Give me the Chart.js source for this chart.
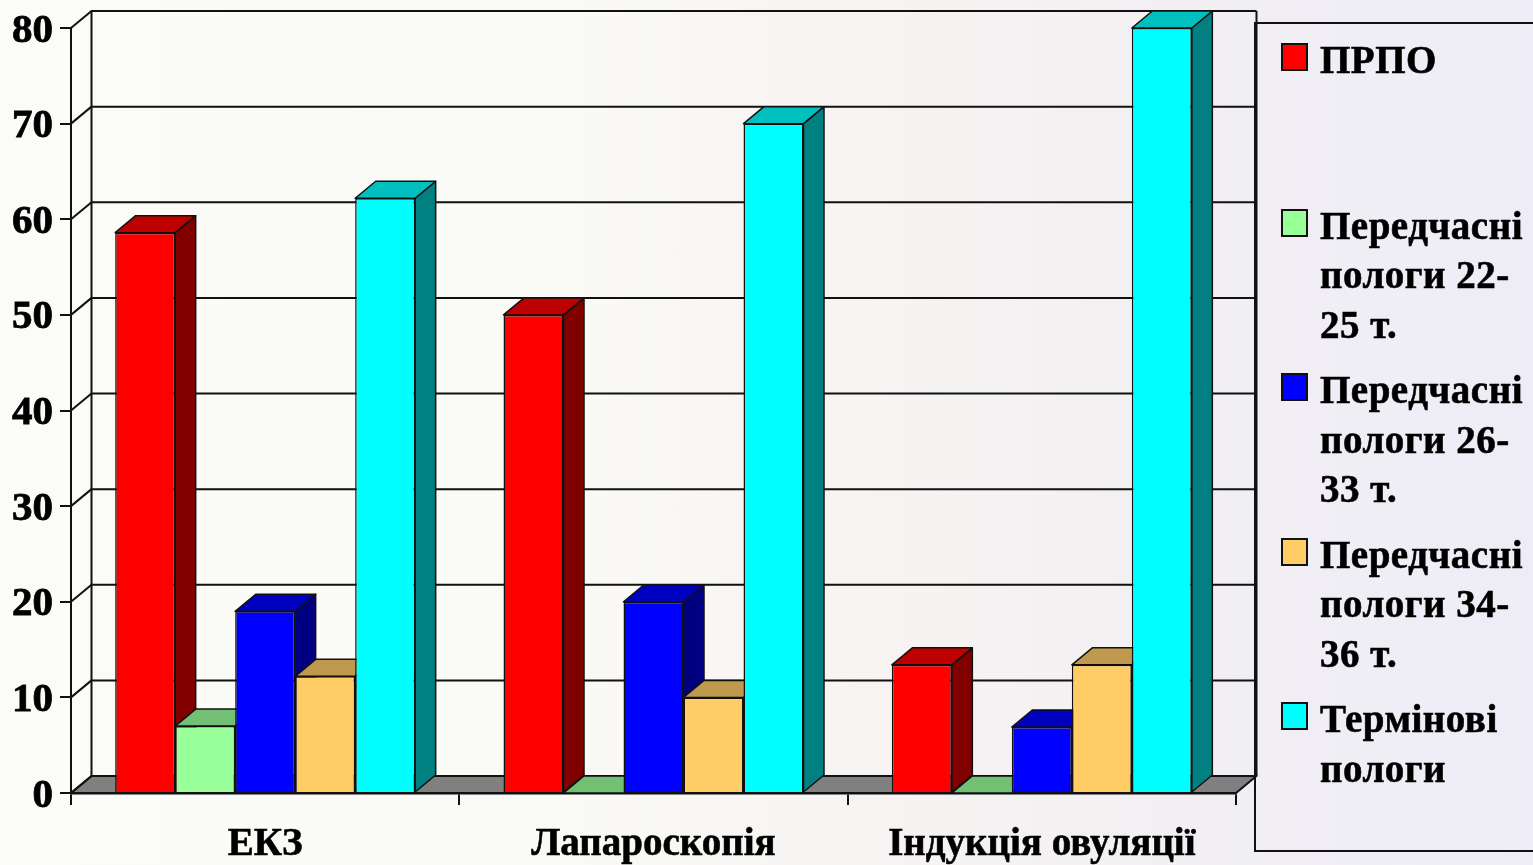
<!DOCTYPE html>
<html lang="uk">
<head>
    <meta charset="UTF-8">
    <title>Пологи</title>
    <script src="https://cdn.jsdelivr.net/npm/chart.js"></script>
    <style>
        html, body { margin: 0; padding: 0; overflow: hidden; }
        body {
            width: 1533px; height: 865px; position: relative;
            background: linear-gradient(90deg, #fbfbf8 0%, #fafaf6 35%, #f6f3f2 60%, #f1eff3 80%, #eeedf7 100%);
            font-family: "Liberation Serif", serif; font-weight: bold; color: #000;
        }
        canvas { position: absolute; left: 0; top: 0; }
        #legenda {
            position: absolute; left: 1254px; top: 22px; width: 290px; height: 830px;
            border: 2px solid #111; box-sizing: border-box;
            padding-top: 11px;
        }
        .item {
            position: relative; margin-bottom: 16px; padding-left: 64px; width: 210px;
            font-size: 39px; line-height: 49.5px; letter-spacing: 0.5px;
            -webkit-text-stroke: 0.6px #000;
        }
        .item:first-child { margin-bottom: 116px; }
        .item i {
            position: absolute; left: 25px; top: 8px; width: 27px; height: 28px;
            border: 2px solid #111; box-sizing: border-box;
        }
    </style>
</head>
<body>
    <canvas id="grafik" width="1533" height="865"></canvas>
    <div id="legenda"></div>

    <script>
        const kategorii = ["ЕКЗ", "Лапароскопія", "Індукція овуляції"];
        const nazvy = ["ПРПО", "Передчасні пологи 22-25 т.", "Передчасні пологи 26-33 т.", "Передчасні пологи 34-36 т.", "Термінові пологи"];

        const prpo = [58.6, 50, 13.4];
        const pp2225 = [7, 0, 0];
        const pp2633 = [19, 20, 6.9];
        const pp3436 = [12.2, 10, 13.4];
        const terminovi = [62.2, 70, 80];

        const kolory = ["#ff0000", "#99ff99", "#0000ff", "#ffcc66", "#00ffff"];
        const verkh = ["#bf0000", "#73bf73", "#0000bf", "#bf994d", "#00bfbf"];
        const bik = ["#800000", "#4d804d", "#000080", "#806633", "#008080"];

        const dx = 20.5, dy = -17;

        function poly(ctx, pts, fill) {
            ctx.beginPath();
            ctx.moveTo(pts[0][0], pts[0][1]);
            for (let i = 1; i < pts.length; i++) ctx.lineTo(pts[i][0], pts[i][1]);
            ctx.closePath();
            if (fill) { ctx.fillStyle = fill; ctx.fill(); }
            ctx.stroke();
        }

        // стінки, сітка і бічні грані стовпчиків
        const obyem = {
            id: "obyem",
            beforeDatasetsDraw(chart) {
                const ctx = chart.ctx, a = chart.chartArea, y = chart.scales.y;
                ctx.save();
                ctx.strokeStyle = "#111";
                ctx.lineWidth = 2;
                ctx.lineJoin = "round";

                // підлога
                poly(ctx, [[a.left, a.bottom], [a.right, a.bottom], [a.right + dx, a.bottom + dy], [a.left + dx, a.bottom + dy]], "#808080");

                // сітка на задній стінці
                y.ticks.forEach(t => {
                    const py = y.getPixelForValue(t.value);
                    ctx.beginPath();
                    ctx.moveTo(a.left, py);
                    ctx.lineTo(a.left + dx, py + dy);
                    if (t.value > 0) ctx.lineTo(a.right + dx, py + dy);
                    ctx.stroke();
                });
                ctx.beginPath();
                ctx.moveTo(a.left + dx, a.top + dy);
                ctx.lineTo(a.left + dx, a.bottom + dy);
                ctx.moveTo(a.right + dx, a.top + dy);
                ctx.lineTo(a.right + dx, a.bottom + dy);
                ctx.stroke();

                ctx.lineWidth = 1.5;
                chart.data.datasets.forEach((ds, i) => {
                    chart.getDatasetMeta(i).data.forEach(b => {
                        const l = b.x - b.width / 2, r = b.x + b.width / 2;
                        poly(ctx, [[r, b.y], [r, b.base], [r + dx, b.base + dy], [r + dx, b.y + dy]], bik[i]);
                        poly(ctx, [[l, b.y], [r, b.y], [r + dx, b.y + dy], [l + dx, b.y + dy]], verkh[i]);
                    });
                });
                ctx.restore();
            }
        };

        const riady = [prpo, pp2225, pp2633, pp3436, terminovi];

        new Chart(document.getElementById("grafik"), {
            type: "bar",
            data: {
                labels: kategorii,
                datasets: riady.map((r, i) => ({
                    label: nazvy[i],
                    data: r,
                    backgroundColor: kolory[i],
                    borderColor: "#111",
                    borderWidth: 1.5,
                    categoryPercentage: 0.7725,
                    barPercentage: 1
                }))
            },
            options: {
                responsive: false,
                animation: false,
                devicePixelRatio: 1,
                layout: { padding: { top: 28, right: 297 } },
                plugins: { legend: { display: false }, tooltip: { enabled: false } },
                scales: {
                    x: {
                        afterFit: s => { s.height = 72; },
                        grid: { drawOnChartArea: false, tickLength: 12, color: "#111", lineWidth: 2 },
                        border: { color: "#111", width: 2.5 },
                        ticks: {
                            color: "#000", padding: 17, maxRotation: 0,
                            textStrokeColor: "#000", textStrokeWidth: 0.6,
                            font: { family: "Liberation Serif", weight: "bold", size: 39 }
                        }
                    },
                    y: {
                        min: 0, max: 80,
                        afterFit: s => { s.width = 71; s.paddingTop = 0; s.paddingBottom = 0; },
                        grid: { drawOnChartArea: false, tickLength: 11, color: "#111", lineWidth: 2 },
                        border: { color: "#111", width: 2 },
                        ticks: {
                            stepSize: 10, color: "#000", padding: 7, labelOffset: 3,
                            textStrokeColor: "#000", textStrokeWidth: 0.8,
                            font: { family: "Liberation Serif", weight: "bold", size: 41 }
                        }
                    }
                }
            },
            plugins: [obyem]
        });

        const legenda = document.getElementById("legenda");
        nazvy.forEach((n, i) => {
            const d = document.createElement("div");
            d.className = "item";
            d.textContent = n;
            const kv = document.createElement("i");
            kv.style.background = kolory[i];
            d.appendChild(kv);
            legenda.appendChild(d);
        });
    </script>
</body>
</html>
